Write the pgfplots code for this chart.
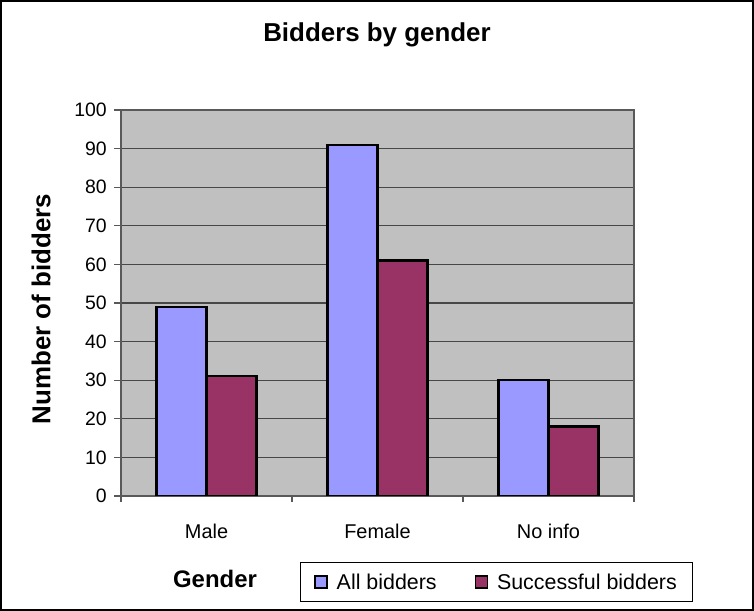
\documentclass[border=0pt]{standalone}
\usepackage{pgfplots}
\pgfplotsset{compat=1.18}
\usepackage{fontspec}
\setmainfont{Liberation Sans}

\definecolor{allbid}{HTML}{9999FF}
\definecolor{succbid}{HTML}{993366}
\definecolor{plotbg}{HTML}{C0C0C0}

\begin{document}
\begin{tikzpicture}[x=1bp,y=1bp]
\useasboundingbox (0,0) rectangle (754,611);
\draw[line width=2bp] (1,1) rectangle (753,610);

\begin{axis}[
  at={(121bp,115bp)}, anchor=south west,
  scale only axis, width=513bp, height=386bp,
  ybar=0pt, bar width=50bp,
  xmin=-0.5, xmax=2.5, ymin=0, ymax=100,
  axis background/.style={fill=plotbg},
  axis line style={draw=black!65, line width=1.3bp},
  ymajorgrids, grid style={draw=black!72, line width=1.1bp},
  ytick={0,10,...,100},
  ytick pos=left, tick align=outside, major tick length=7bp,
  tick style={draw=black!65, line width=1.3bp},
  xtick={0,1,2}, xticklabels={Male,Female,No info},
  x tick style={draw=none},
  extra x ticks={-0.5,0.5,1.5,2.5}, extra x tick labels={},
  extra x tick style={grid=none, x tick style={draw=black!65, line width=1.3bp}, xtick pos=bottom, major tick length=6bp},
  xtick pos=bottom,
  /pgf/number format/assume math mode=true,
  yticklabel style={font=\fontsize{19.5}{21}\selectfont, anchor=east, inner sep=0pt, xshift=-7bp},
  xticklabel style={font=\fontsize{20}{22}\selectfont, anchor=center, inner sep=0pt, yshift=-28bp},
  legend columns=2,
  legend style={at={(0.349,-0.2746)}, anchor=south west, draw=black, line width=0.8bp, fill=white,
    font=\fontsize{21.5}{23}\selectfont, inner xsep=14bp, inner ysep=9bp,
    /tikz/every odd column/.append style={column sep=7bp},
    /tikz/every even column/.append style={column sep=36bp}},
  legend image code/.code={\draw[#1, draw=black, line width=1.3bp] (0bp,-6bp) rectangle (12bp,6bp);},
]
\addplot[fill=allbid, draw=black, line width=2.3bp] coordinates {(0,49) (1,91) (2,30)};
\addplot[fill=succbid, draw=black, line width=2.3bp] coordinates {(0,31) (1,61) (2,18)};
\legend{All bidders, Successful bidders}
\end{axis}

\node[font=\bfseries\fontsize{26}{28}\selectfont] at (377,576) {Bidders by gender};
\node[font=\bfseries\fontsize{26}{28}\selectfont, rotate=90] at (41,302) {Number of bidders};
\node[font=\bfseries\fontsize{24}{26}\selectfont] at (215,32) {Gender};
\end{tikzpicture}
\end{document}
